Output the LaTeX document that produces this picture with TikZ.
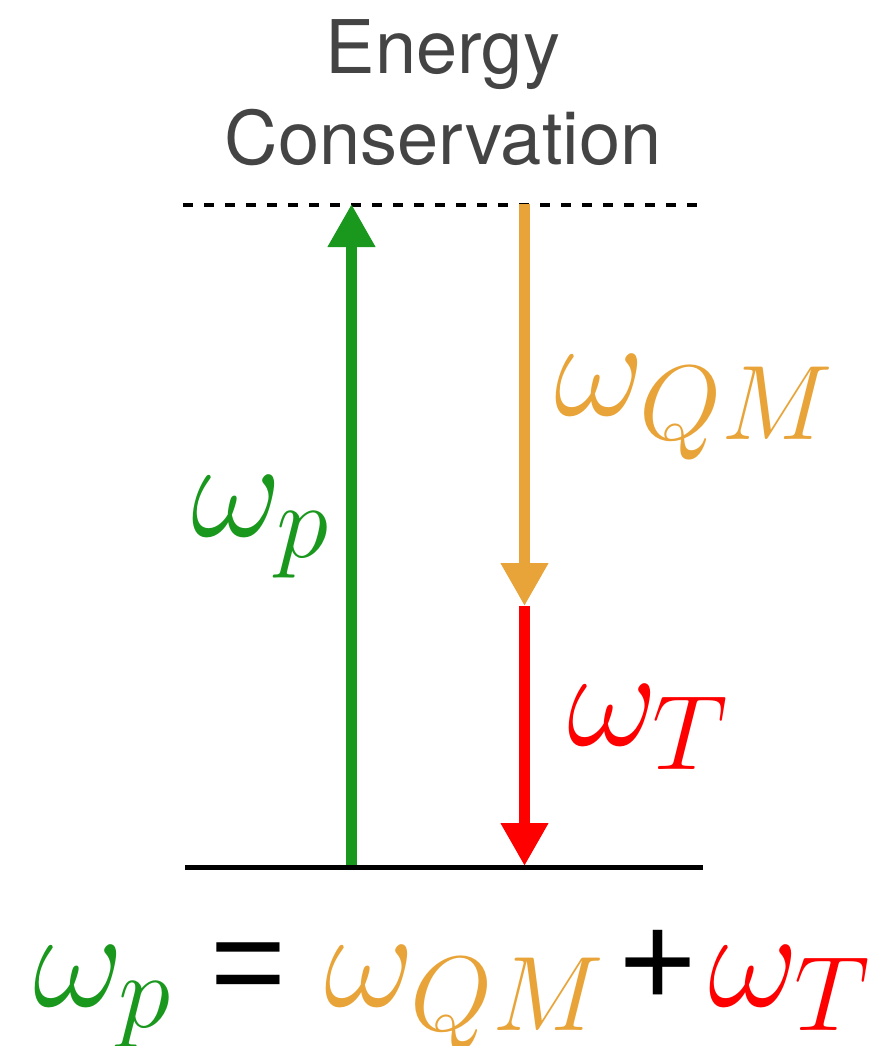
\RequirePackage{fix-cm}
\documentclass[tikz,border=0pt]{standalone}
\usepackage{amsmath}
\usepackage{fontspec}
\setsansfont{TeX Gyre Heros}
\newfontfamily\eqfont{Liberation Sans}
\usepackage{xcolor}
\usepackage{tikz}
\usetikzlibrary{arrows.meta,positioning,calc}
\DeclareMathSizes{140}{140}{106}{76}

\definecolor{pumpgreen}{HTML}{1A981E}
\definecolor{qmorange}{HTML}{E8A438}
\definecolor{tred}{HTML}{FF0000}
\definecolor{titlegray}{HTML}{444444}

\begin{document}
\begin{tikzpicture}[x=1pt,y=-1pt,
    trans/.style={line width=10.5pt, -{Triangle[width=45pt,length=43pt]}},
    omlabel/.style={anchor=base west, inner sep=0pt, font=\fontsize{140}{160}\selectfont},
    headline/.style={anchor=base, inner sep=0pt, text=titlegray, font=\sffamily\fontsize{74}{90}\selectfont}]
\useasboundingbox (0,0) rectangle (886,1046);

% levels
\coordinate (ground west) at (185,867.5);
\coordinate (ground east) at (703,867.5);
\coordinate (virt west) at (183,204.5);
\coordinate (virt east) at (705,204.5);
\draw[line width=5pt] (ground west) -- (ground east);
\draw[line width=4pt, dash pattern=on 10pt off 11pt] (virt west) -- (virt east);

% transitions
\coordinate (p low) at (351.5,865);
\coordinate (p high) at (351.5,204);
\coordinate (qm top) at (524.5,204);
\coordinate (qm end) at (524.5,606);
\coordinate (t end) at (524.5,866);
\draw[trans, pumpgreen] (p low) -- (p high);
\draw[trans, qmorange] (qm top) -- (qm end);
\draw[trans, tred] (qm end) -- (t end);

% labels
\node[headline] (title top) at (443,74) {Energy};
\node[headline] (title bottom) at (443,164) {Conservation};
\node[omlabel, text=pumpgreen] (lab p) at (191,536) {$\omega_p$};
\node[omlabel, text=qmorange] (lab qm) at (554,415) {$\omega_{QM}$};
\node[omlabel, text=tred] (lab t) at (567,745) {$\omega_T$};

% energy balance
\node[omlabel] (balance) at (33,1006)
  {$\textcolor{pumpgreen}{\omega_p} \mathrel{\text{\eqfont\fontsize{130}{150}\selectfont =}} \textcolor{qmorange}{\omega_{QM}}\mkern-2mu \mathbin{\text{\eqfont\fontsize{132}{150}\selectfont +}}\mkern-2.5mu \textcolor{tred}{\omega_T}$};
\end{tikzpicture}
\end{document}
